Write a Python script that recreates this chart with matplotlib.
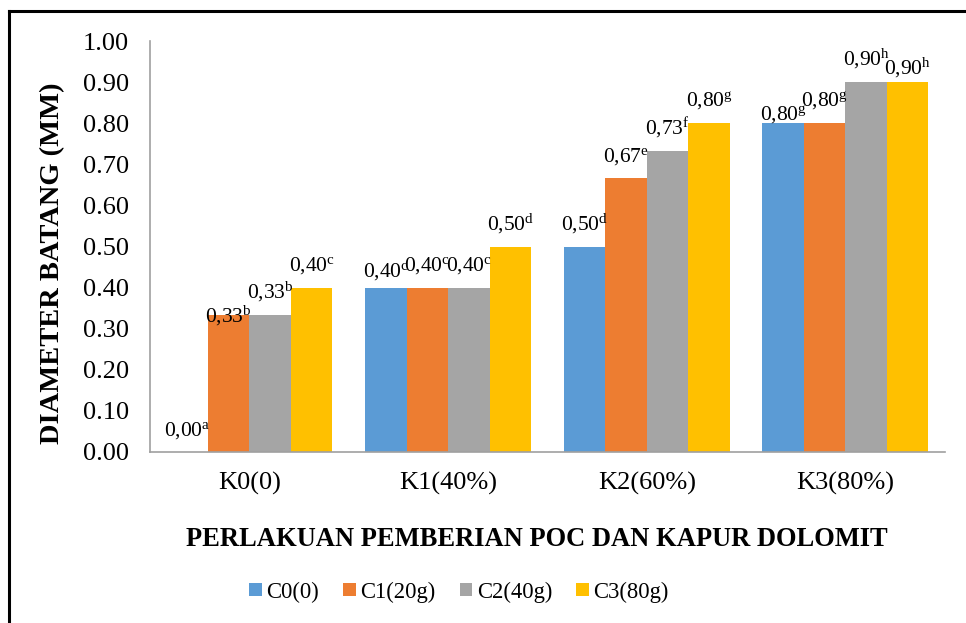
import numpy as np
import matplotlib
matplotlib.use("Agg")
import matplotlib.pyplot as plt
from matplotlib.lines import Line2D

plt.rcParams['font.family'] = ['Liberation Serif', 'DejaVu Serif']
plt.rcParams['mathtext.fontset'] = 'custom'
plt.rcParams['mathtext.rm'] = 'Liberation Serif'
plt.rcParams['mathtext.it'] = 'Liberation Serif:italic'
plt.rcParams['mathtext.bf'] = 'Liberation Serif:bold'

# data
groups = ["K0(0)", "K1(40%)", "K2(60%)", "K3(80%)"]
series = ["C0(0)", "C1(20g)", "C2(40g)", "C3(80g)"]
c0 = [0.00, 0.40, 0.50, 0.80]
c1 = [0.333, 0.40, 0.667, 0.80]
c2 = [0.333, 0.40, 0.733, 0.90]
c3 = [0.40, 0.50, 0.80, 0.90]
letters = [["a", "c", "d", "g"],
           ["b", "c", "e", "g"],
           ["b", "c", "f", "h"],
           ["c", "d", "g", "h"]]

colors = ["#5B9BD5", "#ED7D31", "#A5A5A5", "#FFC000"]
values = [c0, c1, c2, c3]

# label nudges (points) where excel shifted them
nudge = {(0, 1): -17, (1, 0): -4, (3, 0): -10, (3, 3): -6}

fig = plt.figure(figsize=(9.66, 6.23), dpi=100)
ax = fig.add_axes([0.1553, 0.2745, 0.8227, 0.6595])

x = np.arange(len(groups))
w = 0.209
for i, vals in enumerate(values):
    pos = x + (i - 1.5) * w
    ax.bar(pos, vals, width=w, color=colors[i], label=series[i])
    for j, v in enumerate(vals):
        txt = ("%.2f" % v).replace(".", ",") + r"$^{\mathrm{%s}}$" % letters[i][j]
        ax.annotate(txt, (pos[j], v), xytext=(0, 12 + nudge.get((j, i), 0)),
                    textcoords="offset points", ha="center", va="baseline",
                    fontsize=15.5)

ax.set_xlim(-0.5, 3.5)
ax.set_ylim(0, 1.0)
ax.set_yticks(np.arange(0, 1.01, 0.1))
ax.set_yticklabels(["%.2f" % t for t in np.arange(0, 1.01, 0.1)])
ax.set_xticks(x)
ax.set_xticklabels(groups)
ax.tick_params(axis="both", length=0, labelsize=19)
ax.tick_params(axis="y", pad=15)
ax.tick_params(axis="x", pad=14)
for s in ["top", "right"]:
    ax.spines[s].set_visible(False)
for s in ["left", "bottom"]:
    ax.spines[s].set_color("#A0A0A0")
    ax.spines[s].set_linewidth(1.2)

fig.text(53 / 966, 1 - 263 / 623, "DIAMETER BATANG (MM)", rotation=90,
         ha="center", va="center", fontsize=20.5, fontweight="bold")
fig.text(537 / 966, 1 - 540 / 623, "PERLAKUAN PEMBERIAN POC DAN KAPUR DOLOMIT",
         ha="center", va="center", fontsize=19.1, fontweight="bold")

fig.legend(loc="center", bbox_to_anchor=(459 / 966, 1 - 592 / 623), ncol=4,
           frameon=False, fontsize=16.3, handlelength=0.55, handleheight=0.55,
           handletextpad=0.22, columnspacing=1.05)

# frame of the original figure (top and left only visible)
fig.add_artist(Line2D([9 / 966, 1.0], [1 - 11 / 623, 1 - 11 / 623],
                      transform=fig.transFigure, color="black", lw=2.2))
fig.add_artist(Line2D([9 / 966, 9 / 966], [0, 1 - 11 / 623],
                      transform=fig.transFigure, color="black", lw=2.2))

fig.savefig("out.png", dpi=100)
